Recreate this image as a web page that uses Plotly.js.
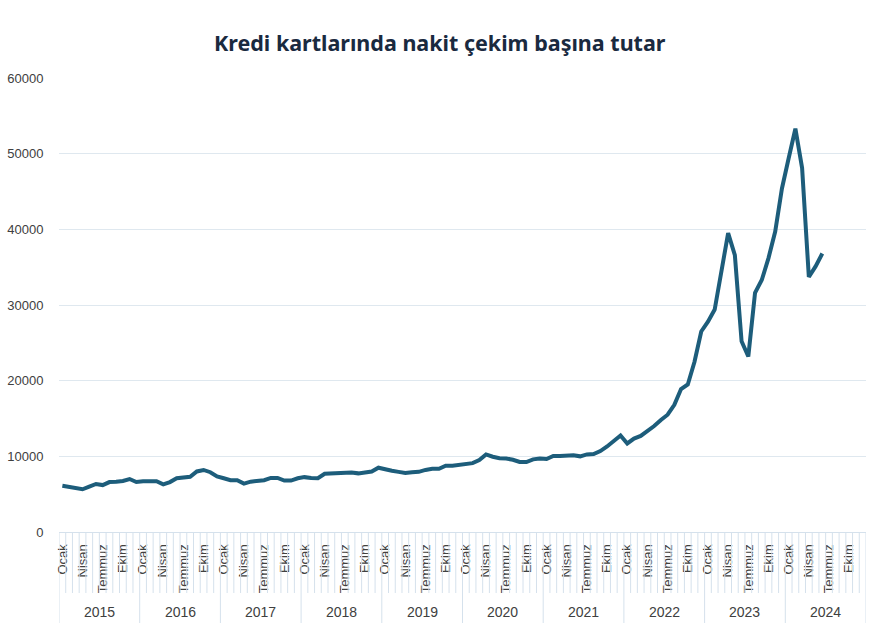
<!DOCTYPE html>
<html>
<head>
<meta charset="utf-8">
<script src="https://cdn.plot.ly/plotly-3.0.1.min.js"></script>
<style>
  html, body { margin: 0; padding: 0; background: #fff; }
  #chart { width: 869px; height: 637px; }
</style>
</head>
<body>
<div id="chart"></div>
<script>
// Kredi kartlarında nakit çekim başına tutar — monthly, Ocak 2015 .. Haziran 2024
const years = ["2015", "2016", "2017", "2018", "2019", "2020", "2021", "2022", "2023", "2024"];
const monthNames = ["Ocak", "Şubat", "Mart", "Nisan", "Mayıs", "Haziran",
                    "Temmuz", "Ağustos", "Eylül", "Ekim", "Kasım", "Aralık"];
const labelMonths = ["Ocak", "Nisan", "Temmuz", "Ekim"];

const values2015 = [6100, 5950, 5900, 5650, 6000, 6350, 6200, 6600, 6650, 6750, 7000, 6600];
const values2016 = [6700, 6750, 6700, 6300, 6600, 7100, 7150, 7300, 8000, 8200, 7900, 7350];
const values2017 = [7100, 6850, 6850, 6400, 6650, 6800, 6850, 7150, 7150, 6800, 6800, 7100];
const values2018 = [7250, 7150, 7100, 7700, 7750, 7750, 7750, 7850, 7750, 7900, 8000, 8500];
const values2019 = [8250, 8100, 7950, 7800, 7900, 7950, 8200, 8350, 8350, 8750, 8750, 8850];
const values2020 = [8900, 9100, 9500, 10250, 9950, 9750, 9700, 9550, 9250, 9250, 9600, 9700];
const values2021 = [9650, 10050, 10050, 10150, 10150, 10000, 10250, 10300, 10700, 11300, 12000, 12750];
const values2022 = [11700, 12350, 12700, 13300, 14000, 14800, 15500, 16800, 18900, 19500, 22500, 26500];
const values2023 = [27800, 29400, 34500, 39500, 36600, 25200, 23200, 31600, 33300, 36200, 39700, 45400];
const values2024 = [49400, 53300, 48100, 33700, 35100, 36800];

const values = [].concat(values2015, values2016, values2017, values2018, values2019,
                         values2020, values2021, values2022, values2023, values2024);

const nSlots = years.length * 12;
const xIdx = values.map((v, i) => i);
const hoverText = values.map((v, i) => monthNames[i % 12] + " " + years[Math.floor(i / 12)]);

// month tick labels (only every 3rd month is labelled, like the original)
const tickvals = [], ticktext = [];
for (let i = 0; i < nSlots; i++) {
  const m = monthNames[i % 12];
  if (labelMonths.includes(m)) { tickvals.push(i); ticktext.push(m); }
}

const AXIS_BLUE = "#d5e1ec";
const plotH = 637 - 78 - 105;

// month dividers + year dividers under the axis
const shapes = [];
for (let i = 0; i <= nSlots; i++) {
  const isYear = i % 12 === 0;
  shapes.push({
    type: "line", xref: "x", yref: "paper",
    x0: i - 0.5, x1: i - 0.5, y0: 0, y1: isYear ? -91 / plotH : -61 / plotH,
    line: { color: AXIS_BLUE, width: 1 },
  });
}
const annotations = years.map((y, k) => ({
  text: y, showarrow: false, xref: "x", yref: "paper",
  x: k * 12 + 5.5, y: -80 / plotH, yanchor: "middle",
  font: { family: "Liberation Sans, Arial, sans-serif", size: 14, color: "#404040" },
}));

const trace = {
  type: "scatter", mode: "lines",
  x: xIdx, y: values, text: hoverText, hoverinfo: "text+y",
  line: { color: "#1d5d7b", width: 4 },
  showlegend: false,
};

const layout = {
  width: 869, height: 637,
  margin: { l: 59, r: 3, t: 78, b: 105 },
  paper_bgcolor: "#fff", plot_bgcolor: "#fff",
  font: { family: "Liberation Sans, Arial, sans-serif", size: 13, color: "#404040" },
  title: {
    text: "<b>Kredi kartlarında nakit çekim başına tutar</b>",
    x: 0.506, xanchor: "center", y: 0.932, yanchor: "middle",
    font: { family: "Noto Sans, sans-serif", size: 21.5, color: "#1a2a3f" },
  },
  xaxis: {
    type: "linear", range: [-0.5, nSlots - 0.5],
    tickmode: "array", tickvals: tickvals, ticktext: ticktext, tickangle: -90,
    ticks: "outside", ticklen: 6, tickcolor: "rgba(0,0,0,0)",
    showgrid: false, zeroline: false,
    showline: true, linecolor: AXIS_BLUE, linewidth: 1,
    tickfont: { size: 13, color: "#404040" },
  },
  yaxis: {
    range: [0, 60000], dtick: 10000, tickformat: "d",
    gridcolor: "#dfe8ef", gridwidth: 1, zeroline: false, showline: false,
    ticks: "outside", ticklen: 12, tickcolor: "rgba(0,0,0,0)",
    tickfont: { size: 13, color: "#404040" },
  },
  shapes: shapes,
  annotations: annotations,
};

Plotly.newPlot("chart", [trace], layout, { displayModeBar: false, staticPlot: true });
</script>
</body>
</html>
